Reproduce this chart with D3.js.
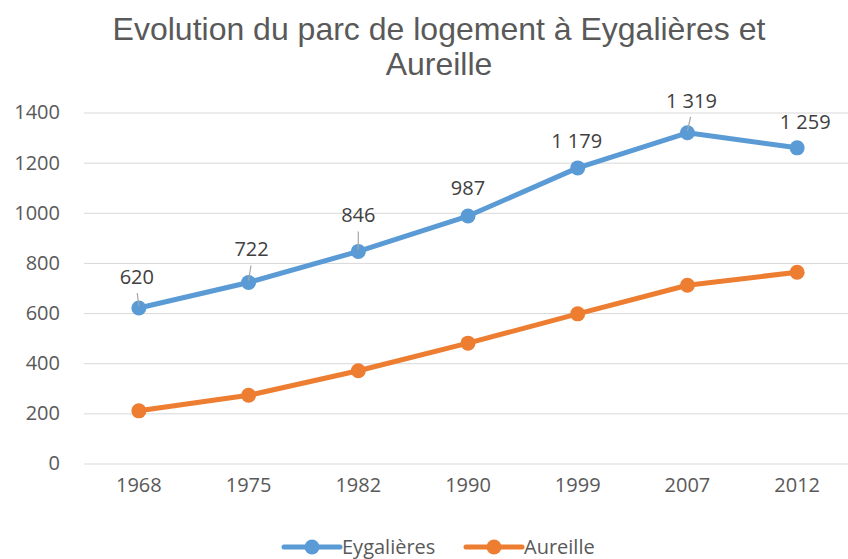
<!DOCTYPE html>
<html><head><meta charset="utf-8">
<script src="https://cdn.jsdelivr.net/npm/d3@7"></script>
<style>body{margin:0;background:#fff}svg{display:block}</style>
</head><body>
<svg id="c" width="848" height="559"></svg>
<script>
const years = ["1968","1975","1982","1990","1999","2007","2012"];
const eygalieres = [620,722,846,987,1179,1319,1259];
const aureille = [210,272,370,480,597,711,763];
const yTicks = [0,200,400,600,800,1000,1200,1400];
const seriesNames = ["Eygalières","Aureille"];
const colors = ["#5B9BD5","#ED7D31"];
// label layout tweaks (dx, dy from point, leader line)
const labelLayout = [[-2,-31,true],[3,-33,true],[0,-36,true],[0,-28,false],[-1,-27,false],[4,-32,true],[8,-26,false]];

const svg = d3.select("#c");
const x = d3.scaleBand().domain(years).range([84,852]);
const y = d3.scaleLinear().domain([0,1400]).range([463.5,112.5]);
const cx = d => x(d) + x.bandwidth()/2;
const FS = 20;

// title
const title = svg.append("text").attr("text-anchor","middle")
  .attr("font-family","Liberation Sans, Arial, sans-serif").attr("font-size",32).attr("fill","#595959");
title.append("tspan").attr("x",439).attr("y",40).text("Evolution du parc de logement à Eygalières et");
title.append("tspan").attr("x",439).attr("y",75).text("Aureille");

// grid
const ya = svg.append("g").attr("transform","translate(84,0)")
  .call(d3.axisLeft(y).tickValues(yTicks).tickSize(-768).tickFormat(d3.format("d")).tickPadding(24));
ya.select(".domain").remove();
ya.selectAll("line").attr("stroke","#d9d9d9").attr("stroke-width",1);
ya.selectAll("text").attr("font-family","Open Sans, sans-serif").attr("font-size",FS).attr("fill","#595959");

const xa = svg.append("g").attr("transform","translate(0,463.5)")
  .call(d3.axisBottom(x).tickSize(0).tickPadding(14));
xa.select(".domain").remove();
xa.selectAll("text").attr("font-family","Open Sans, sans-serif").attr("font-size",FS).attr("fill","#595959");

const seriesData = [eygalieres, aureille];
seriesData.forEach((vals,i)=>{
  const pts = vals.map((v,j)=>[cx(years[j]), y(v)]);
  svg.append("path").attr("d", d3.line()(pts)).attr("fill","none")
    .attr("stroke",colors[i]).attr("stroke-width",5).attr("stroke-linejoin","round").attr("stroke-linecap","round");
  svg.append("g").selectAll("circle").data(pts).join("circle")
    .attr("cx",d=>d[0]).attr("cy",d=>d[1]).attr("r",7.5).attr("fill",colors[i]);
});

// data labels for Eygalières
const fmt = v => d3.format(",")(v).replace(",", " ");
eygalieres.forEach((v,j)=>{
  const px = cx(years[j]), py = y(v);
  const [dx,dy,lead] = labelLayout[j];
  if(lead){
    svg.append("line").attr("x1",px+dx*0.8).attr("y1",py+dy+16).attr("x2",px).attr("y2",py-2)
      .attr("stroke","#a6a6a6").attr("stroke-width",1.2);
  }
  svg.append("text").attr("x",px+dx).attr("y",py+dy).attr("dy","0.35em").attr("text-anchor","middle")
    .attr("font-family","Open Sans, sans-serif").attr("font-size",FS).attr("fill","#404040").text(fmt(v));
});

// legend
const lg = svg.append("g").attr("font-family","Open Sans, sans-serif").attr("font-size",FS).attr("fill","#595959");
const legX = [284, 466];
seriesNames.forEach((n,i)=>{
  const g = lg.append("g").attr("transform",`translate(${legX[i]},547)`);
  g.append("line").attr("x1",0).attr("x2",56).attr("stroke",colors[i]).attr("stroke-width",5).attr("stroke-linecap","round");
  g.append("circle").attr("cx",28).attr("r",7.5).attr("fill",colors[i]);
  g.append("text").attr("x",58).attr("dy","0.35em").text(n);
});
</script>
</body></html>
